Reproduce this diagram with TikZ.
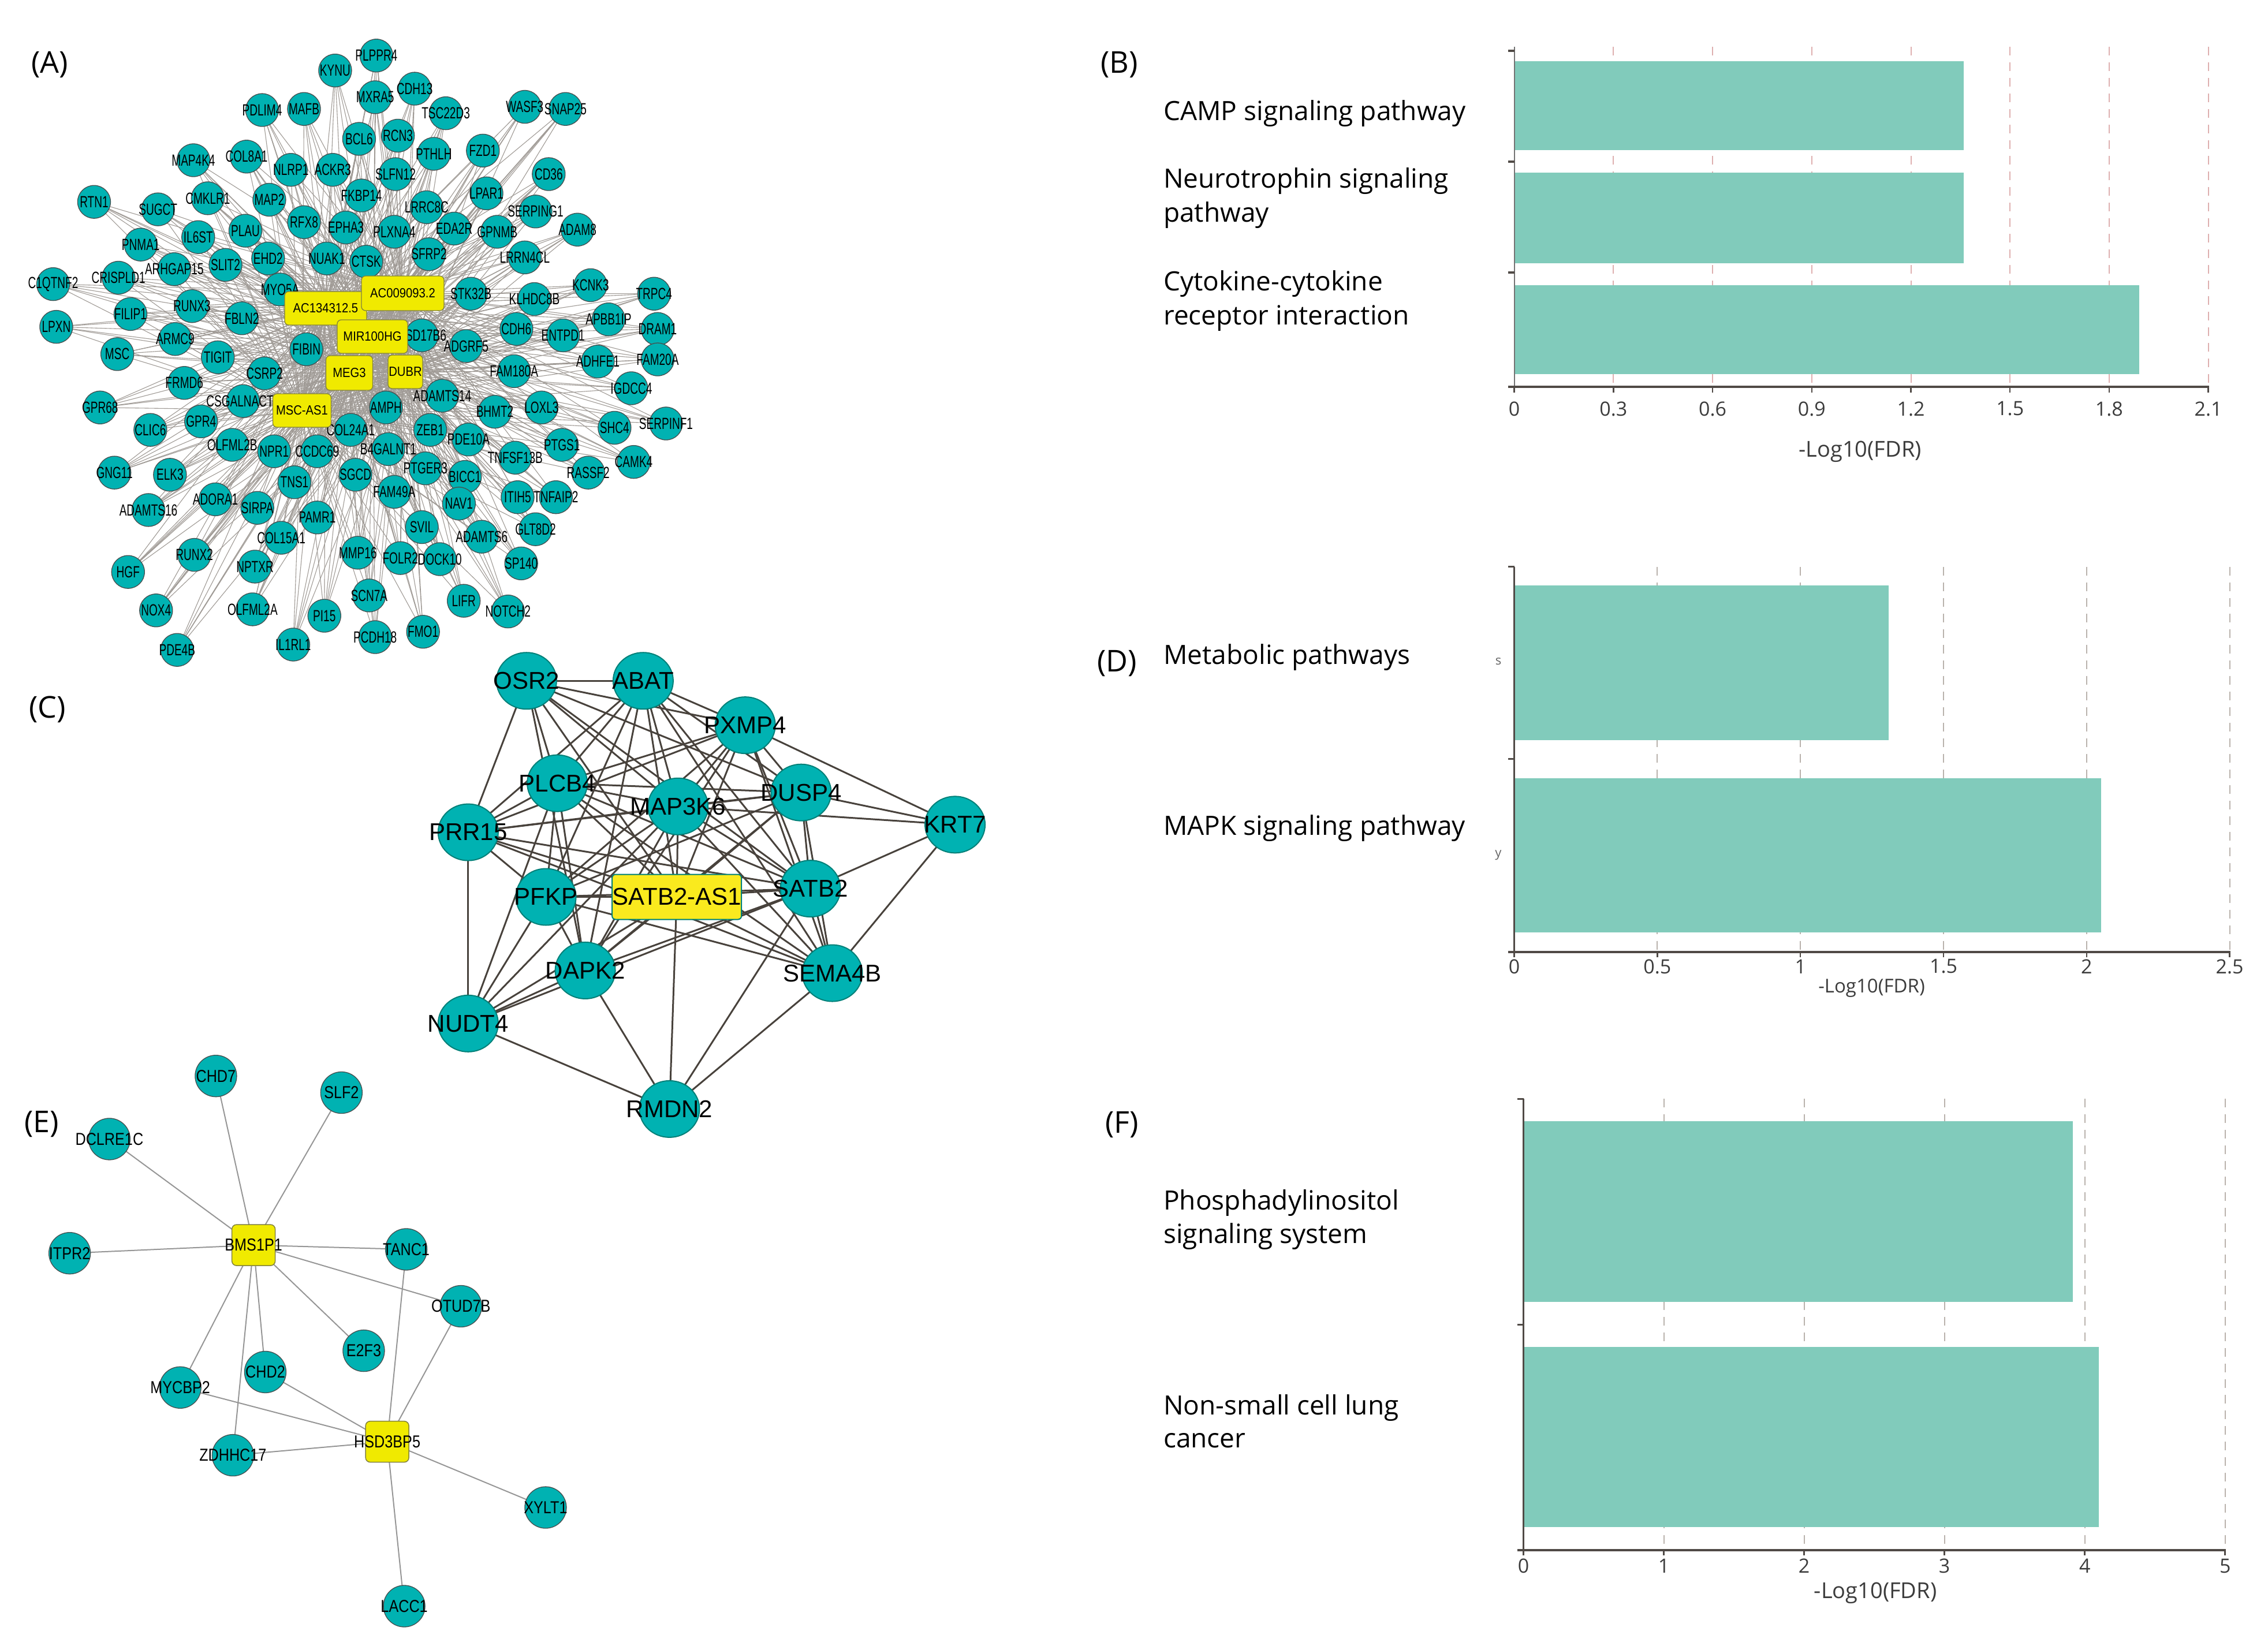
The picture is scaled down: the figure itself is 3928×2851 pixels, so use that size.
\documentclass[tikz,border=0pt]{standalone}
\usepackage{fontspec}
\setmainfont{Open Sans}
\newfontfamily\netA[FakeStretch=0.68]{Liberation Sans}
\newfontfamily\netH[FakeStretch=0.88]{Liberation Sans}
\newfontfamily\netC{Liberation Sans}
\newfontfamily\netE[FakeStretch=0.84]{Liberation Sans}
\usetikzlibrary{shapes.geometric}
\pgfdeclarelayer{bglayer}
\pgfdeclarelayer{edgelayer}
\pgfsetlayers{bglayer,edgelayer,main}
\newcommand\fsz[1]{\fontsize{#1}{#1}\selectfont}

\definecolor{tealn}{RGB}{0,178,178}
\definecolor{nodeborder}{RGB}{70,80,80}
\definecolor{hubyel}{RGB}{240,234,0}
\definecolor{hubborder}{RGB}{130,130,60}
\definecolor{edgeA}{RGB}{160,155,150}
\definecolor{edgeC}{RGB}{72,66,60}
\definecolor{edgeE}{RGB}{150,150,150}
\definecolor{cborder}{RGB}{0,128,120}
\definecolor{satfill}{RGB}{250,234,30}
\definecolor{barc}{RGB}{129,203,187}
\definecolor{gridB}{RGB}{222,175,175}
\definecolor{gridG}{RGB}{185,178,172}
\definecolor{axisdark}{RGB}{80,74,70}
\definecolor{axisgray}{RGB}{60,60,60}

\tikzset{
 anode/.style={circle, fill=tealn, draw=nodeborder, line width=1.3pt, minimum size=57pt, inner sep=0pt},
 alabel/.style={font=\netA\fsz{28}, inner sep=0pt, text=black},
 ahub/.style={rectangle, rounded corners=7pt, fill=hubyel, draw=hubborder, line width=1.3pt, inner sep=0pt, font=\netH\fsz{23}},
 aedge/.style={draw=edgeA, line width=1.1pt},
 cnode/.style={ellipse, fill=tealn, draw=cborder, line width=2pt, minimum width=104pt, minimum height=98pt, inner sep=0pt},
 clabel/.style={font=\netC\fsz{42}, inner sep=0pt},
 cedge/.style={draw=edgeC, line width=3pt},
 enode/.style={circle, fill=tealn, draw=nodeborder, line width=1.3pt, minimum size=72pt, inner sep=0pt},
 elabel/.style={font=\netE\fsz{30}, inner sep=0pt},
 ehub/.style={rectangle, rounded corners=8pt, fill=hubyel, draw=hubborder, line width=1.5pt, minimum width=75pt, minimum height=71pt, inner sep=0pt, font=\netE\fsz{30}},
 eedge/.style={draw=edgeE, line width=2pt},
 barbox/.style={fill=barc, draw=none},
 gridln/.style={dash pattern=on 15pt off 12pt, line width=2pt},
 catlabel/.style={anchor=base west, font=\fsz{46}, inner sep=0pt, text=black},
 ticklab/.style={font=\fsz{34}, text=axisgray, inner sep=0pt},
 axtitle/.style={font=\fsz{38}, text=axisgray, inner sep=0pt},
 panlab/.style={anchor=base west, font=\fsz{52}, inner sep=0pt, text=black}
}

\newcommand\zoneA{KYNU/1400/195, PDLIM4/1095/380, MAFB/1270/375, BCL6/1500/515, MAP4K4/808/615, COL8A1/1030/598, NLRP1/1215/660, ACKR3/1390/660, FKBP14/1510/780, RTN1/393/810, SUGCT/660/845, CMKLR1/868/793, MAP2/1125/800, RFX8/1270/905, EPHA3/1445/930, IL6ST/828/975, PLAU/1025/945, PNMA1/588/1010, EHD2/1120/1075, NUAK1/1365/1075, CTSK/1530/1090, ARHGAP15/728/1125, SLIT2/942/1105, CRISPLD1/495/1165, C1QTNF2/222/1195, MYO5A/1170/1220, RUNX3/802/1298, FILIP1/545/1335, FBLN2/1010/1355, LPXN/235/1395, ARMC9/732/1452, FIBIN/1280/1500}
\newcommand\zoneB{PLPPR4/125/125, MXRA5/120/320, CDH13/285/280, TSC22D3/415/395, RCN3/215/500, PTHLH/365/585, FZD1/570/570, WASF3/745/365, SNAP25/915/375, SLFN12/205/680, CD36/845/680, LPAR1/585/770, LRRC8C/335/835, SERPING1/790/855, PLXNA4/200/950, EDA2R/450/935, GPNMB/630/950, ADAM8/965/940, SFRP2/345/1055, LRRN4CL/745/1070, STK32B/520/1240, KLHDC8B/785/1265, KCNK3/1020/1200, TRPC4/1285/1240, APBB1IP/1095/1360, CDH6/710/1405, ENTPD1/905/1435, HSD17B6/315/1435, ADGRF5/500/1485, DRAM1/1300/1405}
\newcommand\zoneD{ADHFE1/1050/125, FAM20A/1300/115, FAM180A/700/170, IGDCC4/1190/250, ADAMTS14/400/285, AMPH/165/340, BHMT2/620/360, LOXL3/815/340, SHC4/1120/435, SERPINF1/1335/415, ZEB1/350/445, PDE10A/510/490, PTGS1/900/515, B4GALNT1/175/535, TNFSF13B/705/575, CAMK4/1200/595, PTGER3/330/625, BICC1/495/665, RASSF2/1010/645, FAM49A/200/735, NAV1/470/790, ITIH5/715/760, TNFAIP2/875/760, SVIL/315/900, GLT8D2/790/910, ADAMTS6/565/945, FOLR2/225/1045, DOCK10/390/1050, SP140/730/1070, SCN7A/95/1220, LIFR/490/1245, NOTCH2/675/1295, PCDH18/120/1415, FMO1/320/1390}
\newcommand\zoneCc{MSC/490/90, TIGIT/910/105, CSRP2/1105/180, FRMD6/770/225, GPR68/418/340, CSGALNACT1/1015/310, GPR4/840/405, CLIC6/628/445, OLFML2B/970/515, NPR1/1145/545, CCDC69/1325/545, COL24A1/1465/445, GNG11/478/645, ELK3/710/655, TNS1/1230/690, SGCD/1485/655, ADORA1/900/770, SIRPA/1075/810, ADAMTS16/620/820, PAMR1/1325/855, COL15A1/1175/950, MMP16/1495/1020, RUNX2/812/1030, HGF/535/1110, NPTXR/1065/1085, NOX4/652/1290, OLFML2A/1055/1285, PI15/1355/1315, IL1RL1/1225/1450, PDE4B/740/1475}
\newcommand\zoneNetC{OSR2/302/138, ABAT/590/138, PXMP4/842/272, PLCB4/378/447, MAP3K6/676/517, DUSP4/980/475, KRT7/1360/572, PRR15/158/595, PFKP/350/790, SATB2/1003/765, DAPK2/447/1012, SEMA4B/1057/1020, NUDT4/158/1172, RMDN2/655/1430}
\newcommand\zoneNetE{CHD7/533/95, SLF2/843/138, DCLRE1C/270/258, ITPR2/172/553, TANC1/1003/543, OTUD7B/1138/690, E2F3/898/805, CHD2/655/860, MYCBP2/445/900, ZDHHC17/575/1075, XYLT1/1347/1210, LACC1/998/1465}

\begin{document}
\begin{tikzpicture}[x=1pt,y=-1pt]
\begin{pgfonlayer}{bglayer}
\fill[white] (0,0) rectangle (3928,2851);
\end{pgfonlayer}
\useasboundingbox (0,0) rectangle (3928,2851);

% ---------------- Panel A ----------------
\begin{scope}[shift={(0,50)}, xscale=0.41459, yscale=0.36996]
\foreach \nm/\x/\y in \zoneA {\node[anode] (\nm) at (\x,\y) {};}
\end{scope}
\begin{scope}[shift={(600,50)}, xscale=0.41459, yscale=0.36996]
\foreach \nm/\x/\y in \zoneB {\node[anode] (\nm) at (\x,\y) {};}
\end{scope}
\begin{scope}[shift={(0,580)}, xscale=0.41459, yscale=0.36996]
\foreach \nm/\x/\y in \zoneCc {\node[anode] (\nm) at (\x,\y) {};}
\end{scope}
\begin{scope}[shift={(600,580)}, xscale=0.41459, yscale=0.36996]
\foreach \nm/\x/\y in \zoneD {\node[anode] (\nm) at (\x,\y) {};}
\end{scope}
\foreach \nm/\x/\y in \zoneA {\node[alabel] at (\nm) {\nm};}
\foreach \nm/\x/\y in \zoneB {\node[alabel] at (\nm) {\nm};}
\foreach \nm/\x/\y in \zoneCc {\node[alabel] at (\nm) {\nm};}
\foreach \nm/\x/\y in \zoneD {\node[alabel] at (\nm) {\nm};}

\node[ahub, minimum width=142pt, minimum height=58pt] (hA) at (564,534) {AC134312.5};
\node[ahub, minimum width=143pt, minimum height=60pt] (hB) at (697.5,508) {AC009093.2};
\node[ahub, minimum width=122pt, minimum height=58pt] (hC) at (645,583) {MIR100HG};
\node[ahub, minimum width=81pt, minimum height=60pt] (hD) at (605,646) {MEG3};
\node[ahub, minimum width=60pt, minimum height=58pt] (hE) at (702,644) {DUBR};
\node[ahub, minimum width=101pt, minimum height=58pt] (hF) at (523,711) {MSC-AS1};

\begin{pgfonlayer}{edgelayer}
\foreach \nm/\x/\y in \zoneA {\foreach \h in {hA,hB,hC,hD,hE,hF} {\draw[aedge] (\nm.center) -- (\h.center);}}
\foreach \nm/\x/\y in \zoneB {\foreach \h in {hA,hB,hC,hD,hE,hF} {\draw[aedge] (\nm.center) -- (\h.center);}}
\foreach \nm/\x/\y in \zoneCc {\foreach \h in {hA,hB,hC,hD,hE,hF} {\draw[aedge] (\nm.center) -- (\h.center);}}
\foreach \nm/\x/\y in \zoneD {\foreach \h in {hA,hB,hC,hD,hE,hF} {\draw[aedge] (\nm.center) -- (\h.center);}}
\end{pgfonlayer}

% ---------------- Panel C ----------------
\begin{scope}[shift={(700,1100)}, xscale=0.70151, yscale=0.57405]
\foreach \nm/\x/\y in \zoneNetC {\node[cnode] (\nm) at (\x,\y) {};}
\node[rectangle, rounded corners=6pt, fill=satfill, draw=cborder, line width=2pt, minimum width=224pt, minimum height=78pt, inner sep=0pt] (satbas) at (673,790) {};
\end{scope}
\foreach \nm/\x/\y in \zoneNetC {\node[clabel] at (\nm) {\nm};}
\node[clabel] at (satbas) {SATB2-AS1};
\begin{pgfonlayer}{edgelayer}
\foreach \a/\b in {OSR2/ABAT, OSR2/PXMP4, OSR2/PRR15, OSR2/PLCB4, OSR2/MAP3K6, OSR2/DUSP4, OSR2/SATB2, OSR2/satbas, OSR2/DAPK2,
 ABAT/PXMP4, ABAT/PLCB4, ABAT/PRR15, ABAT/MAP3K6, ABAT/DUSP4, ABAT/SATB2, ABAT/PFKP, ABAT/DAPK2, ABAT/satbas, ABAT/SEMA4B,
 PXMP4/KRT7, PXMP4/DUSP4, PXMP4/SATB2, PXMP4/SEMA4B, PXMP4/MAP3K6, PXMP4/PLCB4, PXMP4/PRR15, PXMP4/PFKP, PXMP4/DAPK2, PXMP4/satbas,
 PLCB4/PRR15, PLCB4/MAP3K6, PLCB4/DUSP4, PLCB4/SATB2, PLCB4/PFKP, PLCB4/DAPK2, PLCB4/NUDT4, PLCB4/satbas, PLCB4/SEMA4B,
 MAP3K6/PRR15, MAP3K6/DUSP4, MAP3K6/KRT7, MAP3K6/SATB2, MAP3K6/satbas, MAP3K6/PFKP, MAP3K6/DAPK2, MAP3K6/NUDT4, MAP3K6/SEMA4B,
 DUSP4/KRT7, DUSP4/SATB2, DUSP4/SEMA4B, DUSP4/satbas, DUSP4/PFKP, DUSP4/DAPK2, DUSP4/PRR15,
 KRT7/SATB2, KRT7/SEMA4B,
 PRR15/SATB2, PRR15/SEMA4B, PRR15/PFKP, PRR15/NUDT4, PRR15/satbas,
 PFKP/satbas, PFKP/DAPK2, PFKP/NUDT4, PFKP/SEMA4B, PFKP/SATB2,
 satbas/SATB2, satbas/RMDN2, satbas/DAPK2, satbas/SEMA4B, satbas/NUDT4,
 SATB2/SEMA4B, SATB2/DAPK2, SATB2/RMDN2, SATB2/NUDT4,
 DAPK2/NUDT4, DAPK2/RMDN2, SEMA4B/RMDN2, NUDT4/RMDN2}
 {\draw[cedge] (\a.center) -- (\b.center);}
\end{pgfonlayer}

% ---------------- Panel E ----------------
\begin{scope}[shift={(0,1800)}, xscale=0.70151, yscale=0.67029]
\foreach \nm/\x/\y in \zoneNetE {\node[enode] (\nm) at (\x,\y) {};}
\node[ehub] (eh1) at (626,532) {};
\node[ehub] (eh2) at (956,1040) {};
\end{scope}
\foreach \nm/\x/\y in \zoneNetE {\node[elabel] at (\nm) {\nm};}
\node[elabel] at (eh1) {BMS1P1};
\node[elabel] at (eh2) {HSD3BP5};
\begin{pgfonlayer}{edgelayer}
\foreach \b in {DCLRE1C, CHD7, SLF2, ITPR2, TANC1, OTUD7B, E2F3, CHD2, MYCBP2, ZDHHC17}
 {\draw[eedge] (eh1.center) -- (\b.center);}
\foreach \b in {TANC1, OTUD7B, CHD2, MYCBP2, ZDHHC17, XYLT1, LACC1}
 {\draw[eedge] (eh2.center) -- (\b.center);}
\end{pgfonlayer}

% ---------------- Panel labels ----------------
\node[panlab] (labA) at (54,126) {(A)};
\node[panlab] (labC) at (50,1243) {(C)};
\node[panlab] (labE) at (42,1961) {(E)};
\node[panlab] (labB) at (1906,126) {(B)};
\node[panlab] (labD) at (1900,1163) {(D)};
\node[panlab] (labF) at (1914,1962) {(F)};

% ---------------- Panel B ----------------
\foreach \gx in {2794.3,2966.0,3137.8,3309.5,3481.2,3652.9,3824.6}
 {\draw[gridln, draw=gridB] (\gx,81) -- (\gx,670);}
\fill[barbox] (2622.6,106) rectangle (3400.5,260);
\fill[barbox] (2622.6,299) rectangle (3400.5,456);
\fill[barbox] (2622.6,494) rectangle (3705,648);
\draw[draw=black!55, line width=2pt] (2622.6,81) -- (2622.6,670);
\foreach \ty in {88,280,472} {\draw[axisdark, line width=4pt] (2612,\ty) -- (2622.6,\ty);}
\draw[axisdark, line width=4pt] (2612,670) -- (3826,670);
\foreach \gx/\t in {2622.6/0, 2794.3/0.3, 2966.0/0.6, 3137.8/0.9, 3309.5/1.2, 3481.2/1.5, 3652.9/1.8, 3824.6/2.1}
 {\draw[axisdark, line width=2.5pt] (\gx,670) -- (\gx,680);
  \node[ticklab] at (\gx,708) {\t};}
\node[axtitle] at (3221.6,782) {-Log10(FDR)};
\node[catlabel] at (2015,208) {CAMP signaling pathway};
\node[catlabel] at (2015,325) {Neurotrophin signaling};
\node[catlabel] at (2015,384) {pathway};
\node[catlabel] at (2015,503) {Cytokine-cytokine};
\node[catlabel] at (2015,562) {receptor interaction};

% ---------------- Panel D ----------------
\foreach \gx in {2870.4,3118.2,3366.0,3613.8,3861.6}
 {\draw[gridln, draw=gridG] (\gx,981.6) -- (\gx,1649);}
\fill[barbox] (2622.6,1013.8) rectangle (3270.6,1281.6);
\fill[barbox] (2622.6,1348) rectangle (3639,1614.8);
\draw[axisdark, line width=3pt] (2622.6,981.6) -- (2622.6,1649);
\foreach \ty in {981.6,1314.8} {\draw[axisdark, line width=3pt] (2612,\ty) -- (2622.6,\ty);}
\draw[axisdark, line width=4pt] (2612,1649) -- (3863,1649);
\foreach \gx/\t in {2622.6/0, 2870.4/0.5, 3118.2/1, 3366.0/1.5, 3613.8/2, 3861.6/2.5}
 {\draw[axisdark, line width=2.5pt] (\gx,1649) -- (\gx,1658);
  \node[ticklab] at (\gx,1674) {\t};}
\node[axtitle, font=\fsz{33}] at (3241.5,1711) {-Log10(FDR)};
\node[font=\fsz{22}, text=black!60, inner sep=0pt] at (2595,1146) {s};
\node[font=\fsz{22}, text=black!60, inner sep=0pt] at (2595,1481) {y};
\node[catlabel] at (2015,1150) {Metabolic pathways};
\node[catlabel] at (2015,1446) {MAPK signaling pathway};

% ---------------- Panel F ----------------
\foreach \gx in {2881.5,3124.6,3367.6,3610.7,3853.7}
 {\draw[gridln, draw=gridG] (\gx,1903.3) -- (\gx,2685);}
\fill[barbox] (2638.5,1942) rectangle (3590,2254.7);
\fill[barbox] (2638.5,2333) rectangle (3635,2645);
\draw[axisdark, line width=3pt] (2638.5,1903.3) -- (2638.5,2685);
\foreach \ty in {1903.3,2294} {\draw[axisdark, line width=3pt] (2628,\ty) -- (2638.5,\ty);}
\draw[axisdark, line width=4pt] (2628,2685) -- (3855,2685);
\foreach \gx/\t in {2638.5/0, 2881.5/1, 3124.6/2, 3367.6/3, 3610.7/4, 3853.7/5}
 {\draw[axisdark, line width=2.5pt] (\gx,2685) -- (\gx,2694);
  \node[ticklab] at (\gx,2712) {\t};}
\node[axtitle] at (3248,2759) {-Log10(FDR)};
\node[catlabel] at (2015,2095) {Phosphadylinositol};
\node[catlabel] at (2015,2153) {signaling system};
\node[catlabel] at (2015,2450) {Non-small cell lung};
\node[catlabel] at (2015,2507) {cancer};
\end{tikzpicture}
\end{document}
